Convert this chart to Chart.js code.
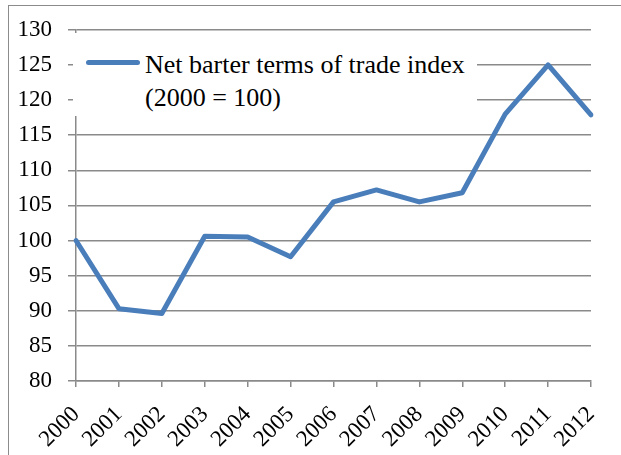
<!DOCTYPE html>
<html>
<head>
<meta charset="utf-8">
<script src="https://cdn.jsdelivr.net/npm/chart.js@4"></script>
<style>
  html, body { margin: 0; padding: 0; background: #fff; overflow: hidden; }
  body { width: 621px; height: 455px; position: relative; }
  #frame { position: absolute; left: 8px; top: 5px; width: 700px; height: 500px; border: 1.5px solid #8c8c8c; }
  #chart { position: absolute; left: 0; top: 0; }
  #legend { position: absolute; left: 73px; top: 33px; width: 404px; height: 83px; background: #fff;
            font-family: "Liberation Serif", "Times New Roman", serif; font-size: 26px; color: #000; }
  #legend .swatch { position: absolute; left: 13px; top: 27px; width: 54px; height: 5px; border-radius: 3px; background: #4a7ebb; }
  #legend .text { position: absolute; left: 72px; top: 15px; line-height: 33px; white-space: nowrap; }
</style>
</head>
<body>
<div id="frame"></div>
<canvas id="chart" width="621" height="455"></canvas>
<div id="legend"><div class="swatch"></div><div class="text">Net barter terms of trade index<br>(2000 = 100)</div></div>
<script>
const years = ['2000', '2001', '2002', '2003', '2004', '2005', '2006', '2007', '2008', '2009', '2010', '2011', '2012'];
const tradeIndex = [100, 90.3, 89.6, 100.6, 100.5, 97.7, 105.5, 107.2, 105.5, 106.8, 118, 125, 117.9];
const seriesLabel = 'Net barter terms of trade index (2000 = 100)';

const serif = '"Liberation Serif", "Times New Roman", serif';
const gridGray = '#8a8a8a';

new Chart(document.getElementById('chart'), {
    type: 'line',
    data: {
        labels: years,
        datasets: [{
            label: seriesLabel,
            data: tradeIndex,
            borderColor: '#4a7ebb',
            borderWidth: 5,
            borderJoinStyle: 'round',
            borderCapStyle: 'round',
            pointRadius: 0,
            tension: 0
        }]
    },
    options: {
        responsive: false,
        animation: false,
        devicePixelRatio: 1,
        layout: { padding: { top: 29, right: 30, left: 0, bottom: 0 } },
        plugins: { legend: { display: false }, tooltip: { enabled: false } },
        scales: {
            x: {
                afterFit: scale => {
                    scale.height = 74;
                    // keep the plot edge where the reference has it
                    scale.paddingLeft = 0;
                    scale.paddingRight = 0;
                },
                grid: { drawOnChartArea: false, drawTicks: true, tickLength: 6, color: gridGray, lineWidth: 1.5 },
                border: { color: gridGray, width: 1.5 },
                ticks: {
                    autoSkip: false, minRotation: 45, maxRotation: 45, padding: 14,
                    color: '#000', font: { family: serif, size: 23 }
                }
            },
            y: {
                min: 80,
                max: 130,
                afterFit: scale => { scale.width = 76; },
                grid: { color: gridGray, lineWidth: 1.5, tickLength: 8 },
                border: { color: gridGray, width: 1.5 },
                ticks: { stepSize: 5, padding: 16, color: '#000', font: { family: serif, size: 23 } }
            }
        }
    }
});
</script>
</body>
</html>
